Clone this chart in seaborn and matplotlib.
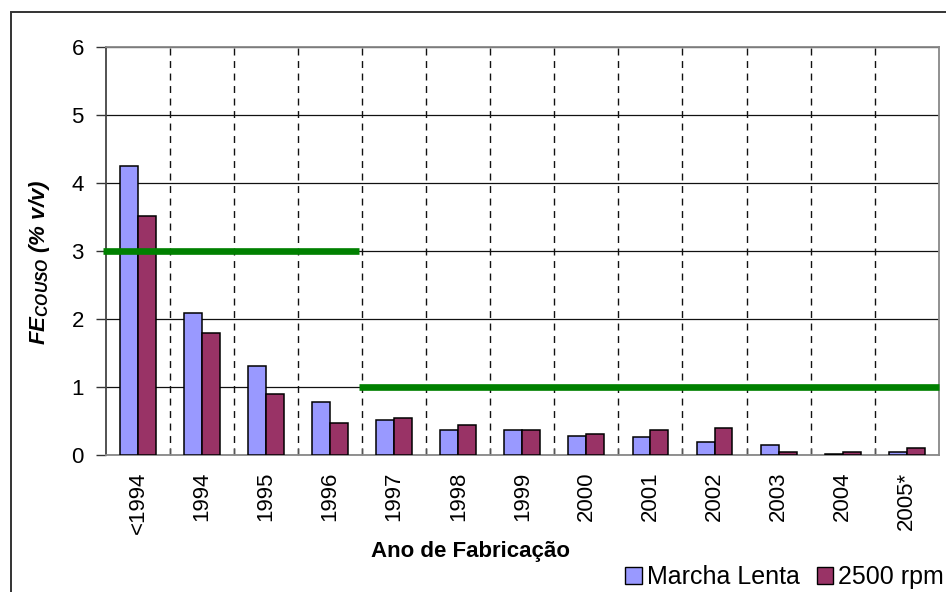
import matplotlib
matplotlib.use("Agg")
import matplotlib.pyplot as plt
import seaborn as sns
import pandas as pd
from matplotlib.patches import Patch, Rectangle
from matplotlib.ticker import MultipleLocator, FixedLocator

categories = ["<1994", "1994", "1995", "1996", "1997", "1998", "1999",
              "2000", "2001", "2002", "2003", "2004", "2005*"]
marcha_lenta = [4.25, 2.09, 1.31, 0.78, 0.52, 0.37, 0.37, 0.28, 0.26, 0.19, 0.14, 0.02, 0.05]
rpm_2500 = [3.51, 1.80, 0.90, 0.47, 0.54, 0.44, 0.37, 0.31, 0.37, 0.40, 0.05, 0.05, 0.10]
series_names = ["Marcha Lenta", "2500 rpm"]
limit_values = [3.0, 1.0]

sns.set_theme(style="white")
plt.rcParams["font.family"] = ["Liberation Sans", "DejaVu Sans"]
plt.rcParams["text.color"] = "black"
plt.rcParams["xtick.color"] = "black"
plt.rcParams["ytick.color"] = "black"
plt.rcParams["mathtext.fontset"] = "custom"
plt.rcParams["mathtext.bfit"] = "Liberation Sans:bold:italic"
plt.rcParams["mathtext.it"] = "Liberation Sans:italic"
plt.rcParams["mathtext.bf"] = "Liberation Sans:bold"
plt.rcParams["mathtext.rm"] = "Liberation Sans"

df = pd.DataFrame({
    "Ano": categories * 2,
    "FE": marcha_lenta + rpm_2500,
    "Serie": [series_names[0]] * len(categories) + [series_names[1]] * len(categories),
})

colors = ["#9999FF", "#993366"]

fig = plt.figure(figsize=(9.46, 5.92), dpi=100)
ax = fig.add_axes([106 / 946, 1 - 455 / 592, (938.7 - 106) / 946, (455 - 47) / 592])

sns.barplot(data=df, x="Ano", y="FE", hue="Serie", order=categories,
            hue_order=series_names, palette=colors, saturation=1,
            width=0.56, gap=0, edgecolor="black", linewidth=1.1,
            legend=False, ax=ax, zorder=3)

ax.set_xlim(-0.5, len(categories) - 0.5)
ax.set_ylim(0, 6)
ax.yaxis.set_major_locator(MultipleLocator(1))

# grids
ax.yaxis.grid(True, color="#111111", linewidth=0.9, zorder=0)
ax.xaxis.set_minor_locator(FixedLocator([i + 0.5 for i in range(len(categories) - 1)]))
ax.xaxis.grid(True, which="minor", color="#111111", linewidth=1.0,
              linestyle=(0, (5, 4)), zorder=0)
ax.xaxis.grid(False, which="major")
ax.set_axisbelow(True)

# limit lines
ax.hlines(limit_values[0], -0.55, 3.45, color="#008000", linewidth=4.8,
          zorder=5, clip_on=False)
ax.hlines(limit_values[1], 3.45, len(categories) - 0.5, color="#008000",
          linewidth=4.8, zorder=5, clip_on=False)

# ticks
ax.tick_params(axis="y", which="major", direction="out", length=7, width=1,
               color="#333333", labelsize=16, pad=9, left=True,
               labelcolor="black")
ax.tick_params(axis="x", which="major", length=0, labelsize=16, pad=12,
               labelrotation=90, labelcolor="black")
ax.tick_params(axis="x", which="minor", direction="in", length=5, width=1,
               color="#555555", bottom=True)
for lab in ax.get_xticklabels():
    lab.set_verticalalignment("top")
    lab.set_horizontalalignment("center")

for side in ["top", "right", "bottom"]:
    ax.spines[side].set_color("#888888")
    ax.spines[side].set_linewidth(1.3)
ax.spines["left"].set_color("#444444")
ax.spines["left"].set_linewidth(1.3)

ax.set_xlabel("")
ax.set_ylabel("")

fig.text(470 / 946, 1 - 552 / 592, "Ano de Fabricação", fontsize=16,
         fontweight="bold", ha="center", va="center", color="black")
fig.text(40 / 946, 1 - 262 / 592,
         r"$\mathbfit{FE}_{\mathbfit{COUSO}}$ (% v/v)", fontsize=16,
         fontweight="bold", fontstyle="italic", rotation=90,
         ha="center", va="center", color="black")

handles = [Patch(facecolor=c, edgecolor="black", linewidth=1.0) for c in colors]
fig.legend(handles, series_names, loc="center right",
           bbox_to_anchor=(944 / 946, 1 - 577 / 592), ncol=2, frameon=False,
           fontsize=18, handlelength=0.65, handleheight=0.65,
           handletextpad=0.2, columnspacing=0.7, borderpad=0, borderaxespad=0,
           labelcolor="black")

# outer chart border
fig.patches.append(Rectangle((11 / 946, -0.05), 1.0, 1 - 12 / 592 + 0.05,
                             transform=fig.transFigure, fill=False,
                             edgecolor="#333333", linewidth=1.4))

fig.savefig("out.png", dpi=100)
